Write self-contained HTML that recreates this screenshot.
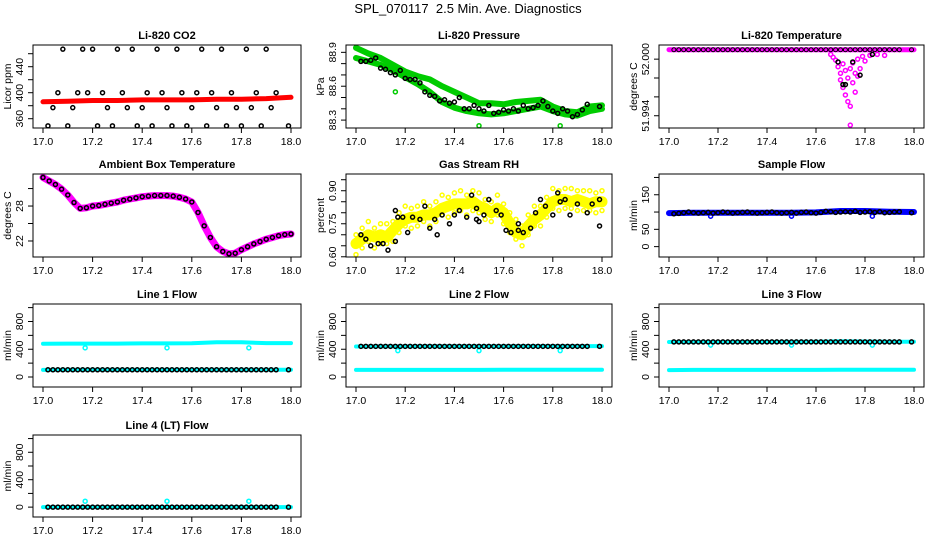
<!DOCTYPE html>
<html><head><meta charset="utf-8">
<style>
html,body{margin:0;padding:0;background:#fff;}
svg{display:block;font-family:"Liberation Sans",Arial,sans-serif;}
</style></head>
<body>
<svg id="chart" width="936" height="540" viewBox="0 0 936 540">
<text x="468" y="13" text-anchor="middle" font-size="13">SPL_070117&#160; 2.5 Min. Ave. Diagnostics</text>
</svg>
<script>
// ---- data ----
const tHalf = [17.0,17.025,17.05,17.075,17.1,17.125,17.15,17.175,17.2,17.225,17.25,17.275,17.3,17.325,17.35,17.375,17.4,17.425,17.45,17.475,17.5,17.525,17.55,17.575,17.6,17.625,17.65,17.675,17.7,17.725,17.75,17.775,17.8,17.825,17.85,17.875,17.9,17.925,17.95,17.975,18.0];
const t48 = [17.02,17.04,17.06,17.08,17.1,17.12,17.14,17.16,17.18,17.2,17.22,17.24,17.26,17.28,17.3,17.32,17.34,17.36,17.38,17.4,17.42,17.44,17.46,17.48,17.5,17.52,17.54,17.56,17.58,17.6,17.62,17.64,17.66,17.68,17.7,17.72,17.74,17.76,17.78,17.8,17.82,17.84,17.86,17.88,17.9,17.92,17.94,17.99];
const t11 = [17.0,17.1,17.2,17.3,17.4,17.5,17.6,17.7,17.8,17.9,18.0];
const t21 = [17.0,17.05,17.1,17.15,17.2,17.25,17.3,17.35,17.4,17.45,17.5,17.55,17.6,17.65,17.7,17.75,17.8,17.85,17.9,17.95,18.0];
const xTicks = [17.0,17.2,17.4,17.6,17.8,18.0];

const co2Black = [349,377,400,467,349,377,400,467,400,467,349,400,377,349,467,400,377,467,349,377,400,349,467,400,377,349,467,400,349,377,400,467,349,400,377,467,349,400,377,349,467,377,400,349,467,377,400,349];
const co2Red = [386,387,388,388,389,389,389,390,390,391,393];

const presUpper = [88.94,88.89,88.85,88.79,88.73,88.69,88.66,88.60,88.55,88.50,88.45,88.45,88.44,88.46,88.47,88.48,88.42,88.38,88.37,88.42,88.43];
const presLower = [88.85,88.82,88.79,88.74,88.68,88.62,88.55,88.46,88.41,88.38,88.36,88.35,88.36,88.38,88.40,88.42,88.38,88.35,88.34,88.38,88.40];
const presBlack = [88.82,88.82,88.83,88.85,88.76,88.75,88.72,88.70,88.74,88.67,88.66,88.66,88.63,88.55,88.52,88.51,88.47,88.48,88.45,88.46,88.50,88.40,88.40,88.43,88.40,88.38,88.43,88.36,88.37,88.39,88.38,88.40,88.38,88.43,88.40,88.41,88.43,88.47,88.42,88.38,88.36,88.40,88.38,88.33,88.35,88.39,88.44,88.42];
const presOutT = [17.16,17.5,17.83];
const presOutV = [88.55,88.25,88.25];

const tempBand = [52.001,52.001,52.001,52.001,52.001,52.001,52.001,52.001,52.001,52.001,52.001];
const tempDipT = [17.66,17.67,17.68,17.69,17.7,17.7,17.71,17.71,17.72,17.72,17.73,17.73,17.74,17.74,17.74,17.75,17.75,17.76,17.76,17.77,17.77,17.78,17.79,17.8,17.82,17.85,17.88];
const tempDipV = [52.0005,52.0002,51.9999,51.9992,51.9985,51.9978,51.9995,51.9970,51.9988,51.9962,51.9980,51.9955,51.9950,51.9930,51.9990,51.9996,51.9975,51.9985,51.9965,52.0000,51.9982,51.9990,52.0003,51.9998,52.0004,52.0005,52.0004];
const tempBlackT = [17.69,17.71,17.72,17.75,17.78,17.83];
const tempBlackV = [51.9997,51.9973,51.9973,51.9997,51.9983,52.0005];

const ambTemp = [32.9,32.3,31.7,30.9,29.9,28.6,27.6,27.7,28.0,28.1,28.3,28.5,28.7,29.0,29.2,29.4,29.6,29.7,29.8,29.8,29.8,29.7,29.5,29.2,28.7,26.9,24.6,22.6,21.0,20.2,19.8,19.9,20.5,21.0,21.5,21.9,22.3,22.6,22.9,23.1,23.2];

const rhYellow = [0.66,0.68,0.70,0.69,0.70,0.69,0.72,0.75,0.77,0.78,0.78,0.79,0.79,0.80,0.82,0.83,0.84,0.84,0.84,0.85,0.83,0.82,0.80,0.82,0.80,0.75,0.71,0.70,0.74,0.77,0.79,0.82,0.85,0.86,0.86,0.85,0.86,0.85,0.84,0.85,0.85];
const rhBlackT = [17.02,17.04,17.06,17.09,17.11,17.13,17.16,17.16,17.17,17.19,17.21,17.23,17.26,17.28,17.30,17.32,17.33,17.35,17.38,17.40,17.42,17.45,17.47,17.49,17.49,17.50,17.52,17.54,17.57,17.59,17.61,17.63,17.66,17.66,17.68,17.71,17.73,17.75,17.77,17.80,17.82,17.83,17.85,17.87,17.90,17.94,17.96,17.99,17.99];
const rhBlackV = [0.70,0.68,0.65,0.66,0.66,0.63,0.67,0.81,0.78,0.78,0.71,0.78,0.77,0.83,0.73,0.77,0.70,0.79,0.75,0.79,0.81,0.78,0.88,0.82,0.77,0.76,0.79,0.86,0.81,0.79,0.72,0.71,0.72,0.75,0.71,0.73,0.80,0.86,0.83,0.79,0.89,0.85,0.86,0.79,0.84,0.80,0.84,0.86,0.74];

const sampleBlue = [97,98,98,98,98,98,99,103,103,101,100];
const sampleBlack = [95,96,98,100,98,97,98,99,97,98,100,99,97,98,99,100,98,97,98,99,100,98,97,98,99,97,99,100,98,97,99,102,101,99,100,101,100,102,99,100,101,99,101,98,99,100,101,98];
const flowOutT = [17.17,17.5,17.83];

const l1Upper = [480,482,482,482,484,484,485,500,500,488,488];
const l1Lower = [103,104,104,104,104,104,104,104,104,104,104];
const l1OutV = [420,420,420];
const l2Upper = [440,441,441,442,442,442,443,445,446,445,445];
const l2Lower = [102,103,103,103,103,103,104,105,105,105,105];
const l2OutV = [380,380,380];
const l3Upper = [505,505,505,505,505,506,507,515,512,508,508];
const l3Lower = [100,102,102,102,102,102,103,106,106,105,105];
const l3OutV = [460,460,460];
const l4Line = [0,0,0,0,0,0,0,0,0,0,0];
const l4OutV = [86,86,86];

// ---- drawing ----
const svg = document.getElementById('chart');
const NS = 'http://www.w3.org/2000/svg';
function mk(tag, attrs, parent){
  const e = document.createElementNS(NS, tag);
  for (const k in attrs) e.setAttribute(k, attrs[k]);
  (parent||svg).appendChild(e);
  return e;
}
const cols = [[33,301],[346,612],[659,924]];
const rows = [[45,128],[174,257],[304,387],[435,517]];

function panel(name, col, row, title, ylab, ylim, yticks, ylabels){
  const L = cols[col][0], R = cols[col][1], T = rows[row][0], B = rows[row][1];
  const g = mk('g', {});
  
  
  const xs = v => (L+10) + (v-17)/(1)*(R-L-20);
  const ys = v => B - (v-ylim[0])/(ylim[1]-ylim[0])*(B-T);
  const clip = mk('clipPath', {id:'clip-'+name}, g);
  mk('rect', {x:L, y:T, width:R-L, height:B-T}, clip);
  const data = mk('g', {'clip-path':'url(#clip-'+name+')'}, g);
  
  
  const box = mk('rect', {x:L, y:T, width:R-L, height:B-T, fill:'none', stroke:'#000', 'stroke-width':1}, g);
  
  
  const tt = mk('text', {x:(L+R)/2, y:T-6, 'text-anchor':'middle', 'font-size':11, 'font-weight':'bold'}, g);
  tt.textContent = title;
  
  
  const xa = mk('g', {}, g);
  
  
  mk('line', {x1:xs(xTicks[0]), x2:xs(xTicks[xTicks.length-1]), y1:B, y2:B, stroke:'#000'}, xa);
  xTicks.forEach(v => {
    mk('line', {x1:xs(v), x2:xs(v), y1:B, y2:B+5, stroke:'#000'}, xa);
    const t = mk('text', {x:xs(v), y:B+17, 'text-anchor':'middle', 'font-size':10.5}, xa);
    t.textContent = v.toFixed(1);
    
    
  });
  const ya = mk('g', {}, g);
  
  
  mk('line', {x1:L, x2:L, y1:ys(yticks[0]), y2:ys(yticks[yticks.length-1]), stroke:'#000'}, ya);
  yticks.forEach(v => {
    mk('line', {x1:L-5, x2:L, y1:ys(v), y2:ys(v), stroke:'#000'}, ya);
  });
  ylabels.forEach(s => {
    const v = parseFloat(s);
    const t = mk('text', {x:0, y:0, 'text-anchor':'middle', 'font-size':10.5, transform:'translate('+(L-10)+','+ys(v)+') rotate(-90)'}, ya);
    t.textContent = s;
    
    
  });
  const yl = mk('text', {x:0, y:0, 'text-anchor':'middle', 'font-size':10.5, transform:'translate('+(L-22)+','+((T+B)/2)+') rotate(-90)'}, g);
  yl.textContent = ylab;
  
  

  return {
    band(ts, vs, color, w, nm){
      const pts = ts.map((t,i)=>xs(t).toFixed(1)+','+ys(vs[i]).toFixed(1)).join(' ');
      const p = mk('polyline', {points:pts, fill:'none', stroke:color, 'stroke-width':w, 'stroke-linejoin':'round', 'stroke-linecap':'round'}, data);
      
      
    },
    pts(ts, vs, color, nm, sw){
      ts.forEach((t,i)=>{
        const c = mk('circle', {cx:xs(t), cy:ys(vs[i]), r:2.0, fill:'none', stroke:color, 'stroke-width':sw||1.5}, data);
        
        
      });
    }
  };
}

let p = panel('co2', 0, 0, 'Li-820 CO2', 'Licor ppm', [345.7,473.4], [360,380,400,420,440,460], ['360','400','440']);
p.band(t11, co2Red, '#ff0000', 5, 'co2-red-band');
p.pts(t48, co2Black, '#000', 'co2-point');

p = panel('pressure', 1, 0, 'Li-820 Pressure', 'kPa', [88.23,88.965], [88.3,88.4,88.5,88.6,88.7,88.8,88.9], ['88.3','88.6','88.9']);
p.band(t21, presUpper, '#00cc00', 6, 'pressure-upper-band');
p.band(t21, presLower, '#00cc00', 6, 'pressure-lower-band');
p.pts(presOutT, presOutV, '#00cc00', 'pressure-outlier');
p.pts(t48, presBlack, '#000', 'pressure-point');

p = panel('li820-temp', 2, 0, 'Li-820 Temperature', 'degrees C', [51.9927,52.0015], [51.994,51.996,51.998,52.000], ['51.994','52.000']);
p.band(t11, tempBand, '#ff00ff', 5, 'temp-magenta-band');
p.pts(tempDipT, tempDipV, '#ff00ff', 'temp-magenta-point');
p.pts(t48, t48.map(()=>tempBand[0]), '#000', 'temp-point', 1);
p.pts(tempBlackT, tempBlackV, '#000', 'temp-dip-point');

p = panel('ambient-temp', 0, 1, 'Ambient Box Temperature', 'degrees C', [19.25,33.5], [22,25,28,31], ['22','28']);
p.band(tHalf, ambTemp, '#ff00ff', 7, 'ambient-magenta-band');
p.pts(tHalf, ambTemp, '#000', 'ambient-point');

p = panel('rh', 1, 1, 'Gas Stream RH', 'percent', [0.599,0.976], [0.60,0.65,0.70,0.75,0.80,0.85,0.90,0.95], ['0.60','0.75','0.90']);
p.band(tHalf, rhYellow, '#ffff00', 11, 'rh-yellow-band');
p.pts(tHalf, rhYellow.map((v,i)=>v + (i%3===0?0.04:(i%3===1?-0.04:0.06))), '#ffff00', 'rh-yellow-point');
p.pts(tHalf, rhYellow.map((v,i)=>v + (i%3===0?-0.05:(i%3===1?0.05:-0.03))), '#ffff00', 'rh-yellow-point');
p.pts(rhBlackT, rhBlackV, '#000', 'rh-point');

p = panel('sample-flow', 2, 1, 'Sample Flow', 'ml/min', [-30,210], [0,50,100,150,200], ['0','50','150']);
p.band(t11, sampleBlue, '#0000ff', 6, 'sample-blue-band');
p.pts(flowOutT, [88,88,88], '#0000ff', 'sample-outlier');
p.pts(t48, sampleBlack, '#000', 'sample-point');

const fl = [-144,1052], ft = [0,200,400,600,800,1000], flab = ['0','400','800'];
p = panel('line1-flow', 0, 2, 'Line 1 Flow', 'ml/min', fl, ft, flab);
p.band(t11, l1Upper, '#00ffff', 4, 'line1-cyan-upper');
p.band(t11, l1Lower, '#00ffff', 4, 'line1-cyan-lower');
p.pts(flowOutT, l1OutV, '#00ffff', 'line1-outlier');
p.pts(t48, t48.map(()=>l1Lower[5]), '#000', 'line1-point');
p = panel('line2-flow', 1, 2, 'Line 2 Flow', 'ml/min', fl, ft, flab);
p.band(t11, l2Upper, '#00ffff', 4, 'line2-cyan-upper');
p.band(t11, l2Lower, '#00ffff', 4, 'line2-cyan-lower');
p.pts(flowOutT, l2OutV, '#00ffff', 'line2-outlier');
p.pts(t48, t48.map(()=>l2Upper[5]), '#000', 'line2-point');
p = panel('line3-flow', 2, 2, 'Line 3 Flow', 'ml/min', fl, ft, flab);
p.band(t11, l3Upper, '#00ffff', 4, 'line3-cyan-upper');
p.band(t11, l3Lower, '#00ffff', 4, 'line3-cyan-lower');
p.pts(flowOutT, l3OutV, '#00ffff', 'line3-outlier');
p.pts(t48, t48.map(()=>l3Upper[5]), '#000', 'line3-point');
p = panel('line4-flow', 0, 3, 'Line 4 (LT) Flow', 'ml/min', fl, ft, flab);
p.band(t11, l4Line, '#00ffff', 4, 'line4-cyan-line');
p.pts(flowOutT, l4OutV, '#00ffff', 'line4-outlier');
p.pts(t48, t48.map(()=>l4Line[0]), '#000', 'line4-point');
</script>
</body></html>
